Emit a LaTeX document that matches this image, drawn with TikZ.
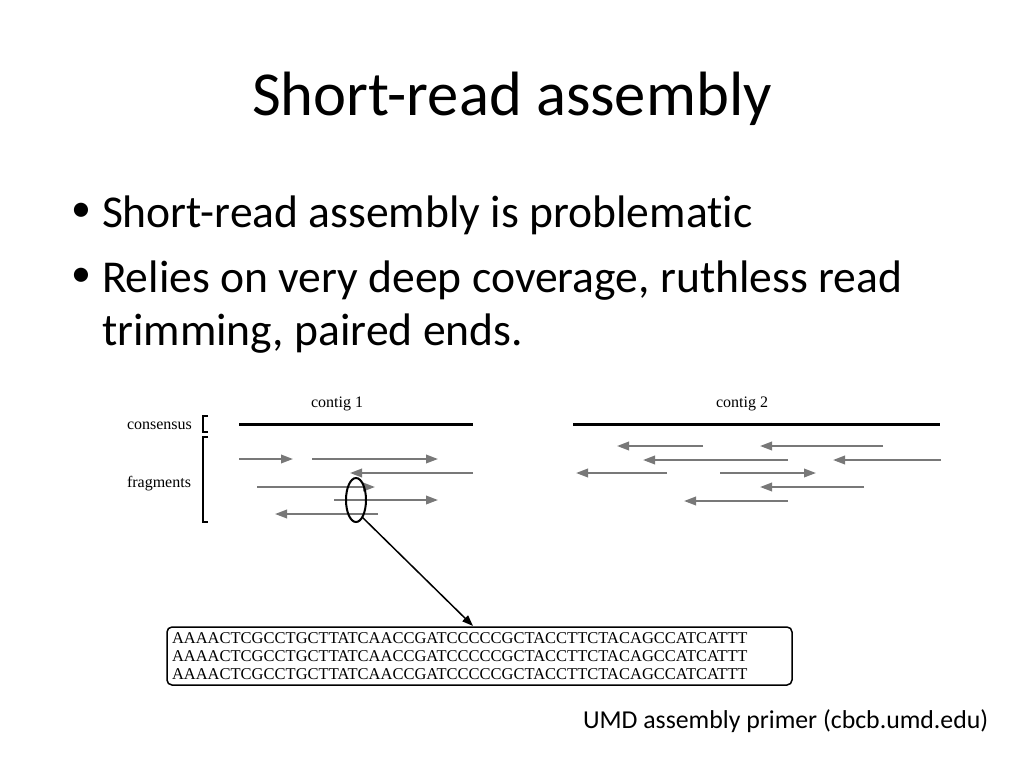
\documentclass[tikz,border=0pt]{standalone}
\usepackage{fontspec}
\setmainfont{Carlito}[Ligatures=NoCommon]
\newfontfamily\figfont{Liberation Serif}
\usetikzlibrary{shapes.geometric,arrows.meta}
\definecolor{readgray}{RGB}{120,120,120}
\begin{document}
\begin{tikzpicture}[x=1pt,y=-1pt,
 every node/.style={inner sep=0pt,outer sep=0pt},
 titletext/.style={font=\fontsize{62.6}{62.6}\selectfont,anchor=base},
 body/.style={font=\fontsize{45.6}{45.6}\selectfont,anchor=base west},
 bulletmark/.style={font=\fontsize{40}{40}\selectfont,anchor=base west},
 foot/.style={font=\fontsize{25.8}{25.8}\selectfont,anchor=base west},
 lab/.style={font=\figfont\fontsize{16}{16}\selectfont},
 seqtext/.style={font=\figfont\fontsize{16.5}{16.5}\selectfont,anchor=base west},
 cons/.style={line width=3pt,black},
 readarrow/.style={line width=2pt,draw=readgray,-{Triangle[length=12pt,width=8.5pt,fill=readgray]}},
 brack/.style={line width=1.8pt}
]
\useasboundingbox (0,0) rectangle (1024,768);
% title and bullets
\node[titletext] (title) at (512,115) {Short-read assembly};
\node[bulletmark] (b1) at (71,221) {•};
\node[body] (t1) at (102,227) {Short-read assembly is problematic};
\node[bulletmark] (b2) at (71,286) {•};
\node[body] (t2) at (102,292) {Relies on very deep coverage, ruthless read};
\node[body] (t3) at (102,345) {trimming, paired ends.};
\node[foot] (foot) at (583,728) {UMD assembly primer (cbcb.umd.edu)};
% figure labels
\node[lab,anchor=base] (c1) at (337,407) {contig 1};
\node[lab,anchor=base] (c2) at (742,407) {contig 2};
\node[lab,anchor=base west] (conslab) at (127,429) {consensus};
\node[lab,anchor=base west] (fraglab) at (127,487) {fragments};
% brackets
\draw[brack] (208,416) -- (203,416) -- (203,432) -- (208,432);
\draw[brack] (208,437) -- (203,437) -- (203,522) -- (208,522);
% consensus lines
\draw[cons] (239,424) -- (473,424);
\draw[cons] (573,424) -- (940,424);
% contig 1 reads
\draw[readarrow] (239,459) -- (293,459);
\draw[readarrow] (312,459) -- (438,459);
\draw[readarrow] (473,473) -- (350,473);
\draw[readarrow] (257,487) -- (375,487);
\draw[readarrow] (334,500) -- (438,500);
\draw[readarrow] (378,514) -- (275,514);
% contig 2 reads
\draw[readarrow] (703,446) -- (617,446);
\draw[readarrow] (883,446) -- (760,446);
\draw[readarrow] (788,460) -- (643,460);
\draw[readarrow] (941,460) -- (833,460);
\draw[readarrow] (667,473) -- (576,473);
\draw[readarrow] (720,473) -- (816,473);
\draw[readarrow] (864,487) -- (760,487);
\draw[readarrow] (788,501) -- (684,501);
% ellipse
\node[ellipse,draw,line width=2pt,minimum width=20pt,minimum height=44pt] (ell) at (356,500) {};
% sequence box
\node[draw,line width=1.5pt,rounded corners=5pt,minimum width=625pt,minimum height=58pt] (seq) at (479.5,656) {};
\node[seqtext] (s1) at (172,643) {AAAACTCGCCTGCTTATCAACCGATCCCCCGCTACCTTCTACAGCCATCATTT};
\node[seqtext] (s2) at (172,661) {AAAACTCGCCTGCTTATCAACCGATCCCCCGCTACCTTCTACAGCCATCATTT};
\node[seqtext] (s3) at (172,679) {AAAACTCGCCTGCTTATCAACCGATCCCCCGCTACCTTCTACAGCCATCATTT};
\coordinate (tip) at (473,626);
\draw[line width=1.5pt,-{Triangle[length=11pt,width=8pt]}] (ell.290) -- (tip);
\end{tikzpicture}
\end{document}
